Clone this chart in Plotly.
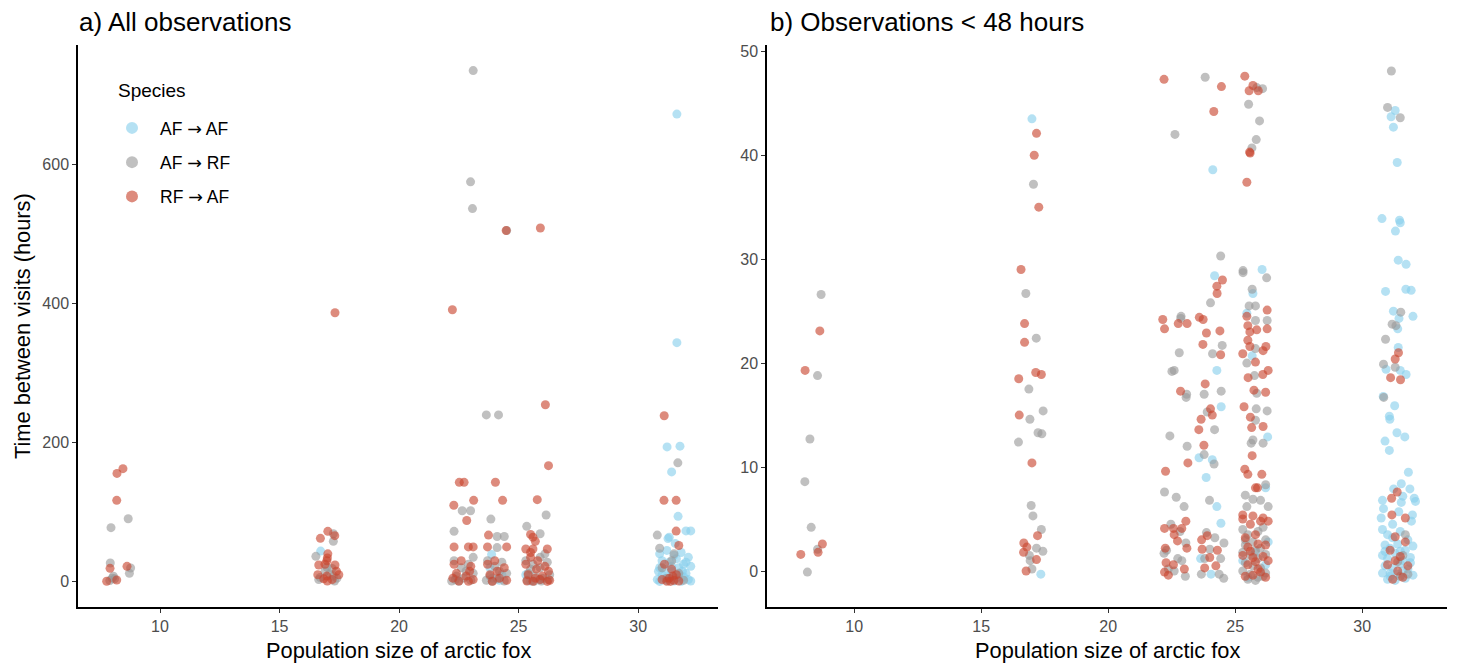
import plotly.graph_objects as go

ARROW = "<span style='font-family:DejaVu Sans'>→</span>"
species = ["AF → AF", "AF → RF", "RF → AF"]
legend_labels = [s.replace("→", ARROW) for s in species]
colors = ["#87CEEB", "#9A9A9A", "#C8442D"]

# ---------------- Panel a: all observations (jittered population size, hours) -------------
a_afaf = [(16.72, 44), (23.87, 39), (23.8, 20), (24.3, 10), (23.9, 5), (24.2, 2), (25.3, 10),
          (25.9, 3), (25.5, 1), (31.62, 673), (31.62, 344), (31.21, 194), (31.75, 195),
          (31.4, 158), (31.67, 94), (32.0, 73), (32.2, 73), (31.3, 64),
          (30.9, 40), (31.2, 45), (31.5, 38), (31.8, 42), (32.1, 35), (31.0, 30), (31.3, 28),
          (31.6, 33), (31.9, 25), (32.2, 22), (30.9, 20), (31.1, 18), (31.4, 15), (31.7, 20),
          (32.0, 12), (31.0, 10), (31.3, 8), (31.6, 5), (31.9, 7), (32.1, 3), (30.8, 3),
          (31.2, 2), (31.5, 1), (31.8, 0.5), (32.2, 1), (30.9, 0.3), (31.1, 5), (31.4, 22),
          (31.7, 10), (32.0, 28), (31.55, 55), (31.25, 62), (30.85, 15), (31.85, 15)]

a_afrf = [(23.1, 735.7), (22.99, 575.5), (23.07, 537), (24.5, 505.5), (23.65, 240), (24.16, 240),
          (31.66, 171), (22.64, 102), (22.99, 102), (23.84, 90), (26.15, 96), (22.3, 72.4),
          (25.34, 79.6), (24.1, 65), (24.4, 65), (25.9, 69), (30.8, 67), (24.1, 49), (25.9, 35),
          (8.67, 90.6), (7.95, 77.7), (7.92, 26.9), (8.77, 19.7), (8.72, 12), (8.05, 7.7),
          (8.1, 4), (7.9, 1.5), (8.0, 5),
          (17.25, 69), (17.25, 58), (16.52, 36.4), (16.98, 21), (17.2, 19), (16.9, 15),
          (16.7, 6), (17.25, 8), (17.1, 11), (16.64, 3), (17.4, 5), (17.3, 1),
          (22.3, 30), (22.6, 20), (22.9, 25), (23.1, 12), (22.4, 8), (22.7, 5), (23.0, 2),
          (22.2, 1), (22.5, 0.5), (22.8, 15), (23.1, 35), (22.35, 3),
          (23.7, 30), (24.0, 22), (24.3, 28), (24.5, 12), (23.8, 8), (24.1, 4), (24.4, 1),
          (23.65, 2), (24.2, 15), (23.9, 0.5),
          (25.3, 30), (25.6, 25), (25.9, 20), (26.2, 28), (25.4, 12), (25.7, 8), (26.0, 5),
          (26.3, 10), (25.35, 2), (25.65, 0.5), (25.95, 1), (26.25, 3), (25.5, 18), (26.1, 40),
          (31.4, 30), (31.0, 20), (31.7, 12), (31.2, 5), (31.9, 2), (31.5, 40), (30.9, 48)]

a_rfaf = [(24.48, 505.5), (25.91, 509), (22.23, 391.4), (17.32, 387), (26.12, 254.7),
          (31.09, 238.8), (26.25, 167), (22.52, 142.9), (22.72, 142.9), (24.03, 143),
          (23.12, 117), (24.33, 117), (25.78, 118), (22.29, 110), (22.83, 88), (31.08, 117),
          (31.59, 117), (23.74, 67), (25.5, 68), (25.6, 64), (31.59, 72.8), (22.3, 50),
          (22.9, 50), (23.1, 50), (23.7, 50), (24.5, 50), (25.3, 47), (25.6, 47), (26.2, 47),
          (25.7, 58), (31.7, 52),
          (8.45, 162.6), (8.2, 155.8), (8.19, 117), (7.91, 19.2), (8.62, 22), (7.77, 0.5), (8.19, 2.4),
          (17.02, 72.4), (17.31, 66.2), (16.71, 62.3), (17.02, 40), (17.0, 34), (16.98, 30),
          (16.9, 25), (16.64, 24), (17.32, 24), (17.38, 15), (16.6, 10), (16.98, 8), (17.48, 10),
          (16.85, 4), (17.2, 3), (17.0, 1),
          (22.3, 25), (22.6, 30), (23.0, 22), (22.4, 12), (22.8, 8), (23.1, 3), (22.5, 1),
          (22.9, 0.5), (22.25, 5), (22.95, 15),
          (23.7, 25), (24.0, 30), (24.4, 20), (23.8, 10), (24.2, 5), (24.5, 2), (23.9, 0.5), (24.1, 15),
          (25.3, 25), (25.5, 35), (25.8, 30), (26.1, 22), (26.25, 15), (25.4, 10), (25.7, 5),
          (26.0, 8), (26.3, 2), (25.35, 1), (25.6, 0.5), (25.9, 3), (26.2, 0.3), (25.5, 42), (25.75, 18),
          (31.1, 25), (31.4, 18), (31.6, 10), (31.3, 5), (31.5, 2), (31.2, 0.5), (31.7, 1),
          (31.0, 3), (31.45, 8), (31.35, 0.3)]

# ---------------- Panel b: observations < 48 hours -------------
b_afaf = [(17.0, 43.5), (17.35, -0.3), (24.12, 38.6), (26.06, 29.0), (24.19, 28.4), (25.70, 26.7),
          (25.46, 24.8), (25.67, 20.7), (24.28, 19.3), (26.28, 12.9), (23.58, 10.9), (24.1, 10.7),
          (23.86, 9.0), (26.2, 8.0), (24.28, 6.2), (24.44, 4.6), (24.45, 15.8), (23.64, 1.2),
          (24.05, -0.3), (25.3, 1.0), (25.5, -0.6), (26.2, 0.6), (25.8, 1.8), (26.3, 2.8),
          (31.3, 44.3), (31.14, 43.7), (31.23, 42.7), (31.38, 39.3), (30.78, 33.9), (31.47, 33.75),
          (31.5, 33.5), (31.31, 32.7), (31.42, 29.9), (31.73, 29.5), (30.92, 26.9), (31.72, 27.1),
          (31.93, 27.0), (31.23, 25.0), (32.0, 24.5), (31.45, 24.3), (31.4, 23.3), (31.42, 21.5),
          (30.94, 19.4), (31.5, 19.3), (31.73, 18.9), (30.83, 16.8), (31.28, 15.9), (31.07, 14.9),
          (31.09, 14.6), (31.37, 13.3), (31.68, 12.9), (30.9, 12.5), (31.07, 11.6), (31.82, 9.5),
          (31.54, 8.4), (31.24, 7.9), (31.88, 7.9), (31.6, 7.2), (32.05, 7.0), (32.1, 6.7),
          (30.8, 6.8), (30.84, 6.0), (31.54, 6.6), (30.75, 5.1), (31.44, 5.7), (31.98, 5.4),
          (31.94, 4.8),
          (30.8, 4.0), (31.0, 3.5), (31.2, 3.2), (31.5, 3.8), (31.8, 3.0), (30.9, 2.5), (31.1, 2.2),
          (31.4, 2.6), (31.7, 2.0), (32.0, 2.4), (30.8, 1.5), (31.0, 1.2), (31.3, 1.7), (31.6, 1.0),
          (31.9, 1.3), (30.9, 0.5), (31.2, 0.3), (31.5, 0.7), (31.8, 0.2), (30.8, -0.2), (31.1, -0.5),
          (31.4, -0.3), (31.7, -0.7), (32.0, -0.4), (31.0, -0.8), (31.3, -0.9), (31.6, 0.0),
          (31.9, 0.8), (31.2, 4.5), (31.5, 1.9), (31.1, -0.2), (30.9, 1.9)]

b_afrf = [(8.70, 26.6), (8.56, 18.8), (8.26, 12.7), (8.06, 8.6), (8.31, 4.2), (8.56, 2.1), (8.16, -0.1),
          (17.06, 37.2), (16.76, 26.7), (17.17, 22.4), (16.88, 17.5), (17.44, 15.4), (16.92, 14.6),
          (17.24, 13.3), (17.39, 13.2), (16.47, 12.4), (16.97, 6.3), (17.04, 5.3), (17.37, 4.0),
          (17.18, 2.2), (17.43, 1.9), (16.90, 1.5), (16.93, 1.0), (17.0, 0.2),
          (23.82, 47.5), (25.85, 46.5), (26.08, 46.4), (25.53, 44.9), (25.96, 43.3), (22.63, 42.0),
          (25.83, 41.5), (25.66, 40.7), (24.43, 30.3), (25.31, 28.9), (25.31, 28.7), (26.24, 28.2),
          (25.67, 27.1), (24.03, 25.8), (25.55, 25.5), (25.80, 25.5), (22.87, 24.5), (22.86, 24.3),
          (25.80, 24.1), (26.26, 24.1),
          (24.49, 21.7), (25.8, 21.4), (22.80, 21.0), (24.11, 20.9), (25.46, 20.0), (22.51, 19.2),
          (22.6, 19.3), (25.76, 18.8), (23.09, 17.0), (23.07, 16.7), (23.78, 17.0), (24.45, 17.3),
          (25.85, 17.1), (23.9, 15.3), (25.83, 15.6), (26.26, 15.4), (25.8, 14.5), (24.19, 13.6),
          (22.43, 13.0), (25.7, 12.6), (26.1, 12.3), (25.63, 12.3), (23.11, 12.0), (23.78, 11.2),
          (24.17, 10.3), (26.2, 8.3), (22.22, 7.6), (22.68, 7.1), (25.4, 7.3), (25.7, 6.9),
          (26.0, 6.8), (22.99, 6.2), (23.99, 6.8), (25.46, 6.2), (26.3, 6.2),
          (22.47, 4.5), (22.83, 3.8), (23.06, 2.7), (22.3, 2.0), (22.2, 1.7), (22.74, 1.2),
          (22.9, 1.0), (22.37, 0.2), (23.04, -0.5), (22.6, 0.0),
          (23.87, 3.7), (24.2, 3.2), (24.56, 2.7), (24.0, 2.1), (23.8, 1.2), (24.43, 1.2),
          (23.67, -0.3), (24.37, -0.3), (24.55, -0.7),
          (25.3, 4.0), (25.5, 3.5), (25.9, 3.8), (26.2, 3.0), (25.4, 2.5), (25.7, 2.8), (26.0, 2.2),
          (25.3, 1.8), (25.6, 1.5), (25.9, 1.2), (26.2, 1.6), (25.4, 0.8), (25.7, 0.5), (26.0, 0.3),
          (25.3, 0.0), (25.6, -0.3), (25.9, -0.6), (26.2, -0.2), (25.5, -0.8), (25.8, -0.9),
          (26.1, -0.5), (25.4, 3.0), (25.8, 2.0), (26.1, 4.2),
          (31.15, 48.1), (31.0, 44.6), (31.5, 43.6), (31.52, 24.9), (31.18, 23.75), (31.33, 23.6),
          (30.92, 22.3), (30.84, 19.9), (31.3, 19.6), (30.85, 16.7),
          (31.6, 1.5), (31.8, -0.3), (31.4, 0.9), (31.7, 3.5), (31.5, -0.5)]

b_rfaf = [(8.65, 23.1), (8.07, 19.3), (8.75, 2.6), (8.58, 1.8), (7.90, 1.6),
          (17.18, 42.1), (17.09, 40.0), (17.27, 35.0), (16.57, 29.0), (16.71, 23.8), (16.71, 22.0),
          (17.15, 19.1), (17.37, 18.9), (16.48, 18.5), (16.50, 15.0), (17.0, 10.4), (17.22, 3.4),
          (16.68, 2.7), (16.80, 2.3), (16.67, 1.8), (17.18, 1.1), (16.77, 0.0),
          (22.20, 47.3), (25.38, 47.6), (24.46, 46.6), (25.70, 46.7), (25.55, 46.2), (25.91, 46.2),
          (24.16, 44.2), (25.59, 40.2), (25.57, 40.3), (25.46, 37.4), (24.50, 28.0), (24.28, 27.4),
          (24.29, 26.7), (26.26, 25.1), (22.15, 24.2), (23.59, 24.4), (23.74, 24.2), (25.46, 24.5),
          (22.76, 23.8), (23.11, 23.8), (22.22, 23.3), (25.5, 23.6), (26.26, 23.3),
          (23.87, 22.9), (24.40, 23.1), (25.58, 23.0), (25.85, 23.2), (25.50, 22.2), (23.73, 21.8),
          (26.21, 21.6), (25.58, 21.6), (24.43, 20.8), (25.30, 20.9), (26.1, 21.2), (25.8, 20.1),
          (26.3, 19.3), (26.09, 18.9), (25.51, 18.6), (23.82, 18.0), (22.85, 17.3), (25.74, 17.4),
          (26.2, 17.2), (24.03, 15.6), (24.1, 15.0), (25.35, 15.8), (25.6, 14.8), (23.66, 14.6),
          (23.57, 13.6), (25.65, 13.8), (26.1, 13.9), (23.77, 12.1), (25.67, 11.1), (23.14, 10.4),
          (22.26, 9.6), (25.38, 9.8), (25.5, 9.3), (26.05, 9.3), (25.88, 8.0), (25.8, 8.0),
          (23.06, 4.8), (25.30, 5.4), (25.7, 5.3), (26.1, 5.1), (26.3, 4.8),
          (22.22, 4.1), (22.57, 4.1), (22.9, 4.1), (22.6, 3.5), (22.73, 2.9), (22.25, 2.2),
          (23.1, 2.2), (22.28, 0.8), (22.57, 0.6), (23.0, 0.2), (22.22, -0.1), (22.37, -0.4),
          (23.68, 3.0), (23.9, 3.4), (23.7, 2.1), (24.3, 2.0), (24.0, 1.3), (24.24, 0.5), (23.8, 0.3),
          (25.3, 5.0), (25.6, 4.5), (26.0, 4.8), (25.4, 3.2), (25.8, 3.5), (26.2, 2.5), (25.5, 2.3),
          (25.9, 2.6), (25.3, 1.5), (25.7, 1.3), (26.1, 1.4), (26.3, 1.0), (25.5, 0.6), (25.8, 0.9),
          (26.0, -0.1), (25.4, -0.5), (25.7, -0.4), (26.2, -0.6), (25.6, 1.9), (25.9, 0.2),
          (31.43, 21.0), (31.3, 20.4), (31.12, 18.6), (31.51, 18.4), (31.38, 7.6), (31.16, 7.0),
          (31.17, 5.4), (31.7, 5.1),
          (31.3, 3.3), (31.1, 2.0), (31.5, 1.4), (31.7, 2.8), (31.0, 0.6), (31.4, 0.0), (31.6, -0.6),
          (31.2, -0.8), (31.8, 0.5), (31.3, 1.0)]

x_ticks = [10, 15, 20, 25, 30]
ya_ticks = [0, 200, 400, 600]
yb_ticks = [0, 10, 20, 30, 40, 50]

W, H = 1457, 663
FONT = "Liberation Sans, Arial, sans-serif"

fig = go.Figure()

panels = [("x", "y", [a_afaf, a_afrf, a_rfaf], True),
          ("x2", "y2", [b_afaf, b_afrf, b_rfaf], False)]
for xa, ya, series, show in panels:
    for name, label, col, pts in zip(species, legend_labels, colors, series):
        fig.add_trace(go.Scatter(
            x=[p[0] for p in pts], y=[p[1] for p in pts], mode="markers",
            name=label, legendgroup=name, showlegend=show,
            marker=dict(color=col, size=9, opacity=0.62, line=dict(width=0)),
            xaxis=xa, yaxis=ya))

def px_x(p):
    return p / W

def px_y(p):
    return 1 - p / H

ydom = [px_y(607), px_y(45)]
axis_common = dict(showline=True, linecolor="black", linewidth=1.5, ticks="outside",
                   ticklen=4, tickwidth=1, tickcolor="#333333", showgrid=False,
                   zeroline=False, tickfont=dict(family=FONT, size=16, color="#4D4D4D"),
                   automargin=False, mirror=False)

fig.update_layout(
    width=W, height=H, margin=dict(l=0, r=0, t=0, b=0),
    paper_bgcolor="white", plot_bgcolor="white",
    font=dict(family=FONT, color="black"),
    xaxis=dict(domain=[px_x(78), px_x(718)], range=[6.57, 33.34], tickvals=x_ticks,
               anchor="y", **axis_common),
    yaxis=dict(domain=ydom, range=[-36.5, 772.5], tickvals=ya_ticks, anchor="x", **axis_common),
    xaxis2=dict(domain=[px_x(767), px_x(1447)], range=[6.57, 33.34], tickvals=x_ticks,
                anchor="y2", **axis_common),
    yaxis2=dict(domain=ydom, range=[-3.46, 50.6], tickvals=yb_ticks, anchor="x2", **axis_common),
    legend=dict(x=px_x(104), y=px_y(110), xanchor="left", yanchor="top",
                bgcolor="rgba(0,0,0,0)", font=dict(family=FONT, size=17.5, color="black"),
                tracegroupgap=8.5, itemsizing="constant", itemwidth=46),
    showlegend=True,
)

ann = [
    dict(text="a) All observations", x=px_x(77), y=px_y(22), xanchor="left", yanchor="middle",
         font=dict(size=26)),
    dict(text="b) Observations < 48 hours", x=px_x(768), y=px_y(22), xanchor="left",
         yanchor="middle", font=dict(size=26)),
    dict(text="Population size of arctic fox", x=px_x(398), y=px_y(650), xanchor="center",
         yanchor="middle", font=dict(size=21.8)),
    dict(text="Population size of arctic fox", x=px_x(1107), y=px_y(650), xanchor="center",
         yanchor="middle", font=dict(size=21.8)),
    dict(text="Time between visits (hours)", x=px_x(22), y=px_y(326), xanchor="center",
         yanchor="middle", textangle=-90, font=dict(size=21.8)),
    dict(text="Species", x=px_x(116), y=px_y(91), xanchor="left", yanchor="middle",
         font=dict(size=19)),
]
for a in ann:
    a.update(xref="paper", yref="paper", showarrow=False)
    a["font"].update(family=FONT, color="black")
fig.update_layout(annotations=ann)

fig.write_html("out.html", config={"displayModeBar": False},
               post_script="document.body.style.margin='0';")
